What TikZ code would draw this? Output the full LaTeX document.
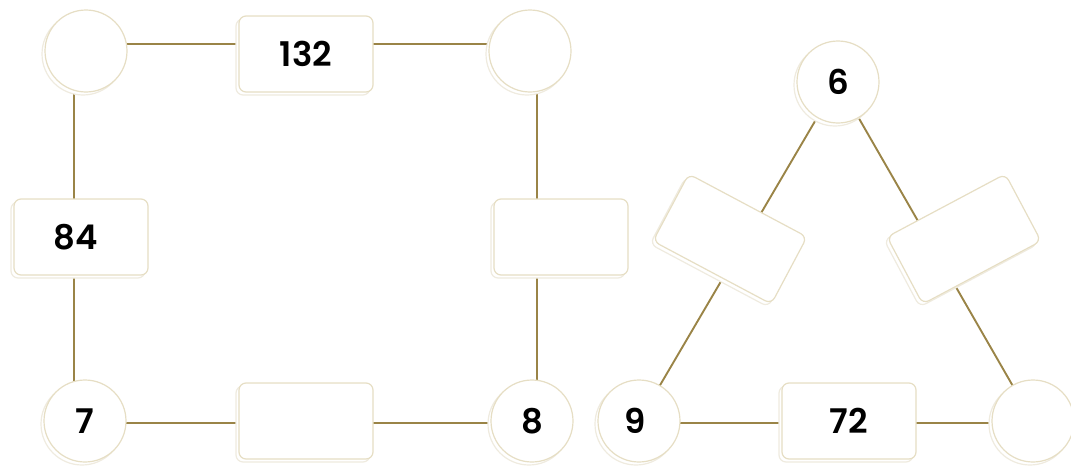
\documentclass[tikz,border=0pt]{standalone}
\usepackage{fontspec}
\setmainfont{Poppins}[UprightFont=* SemiBold]
\usetikzlibrary{shadows,backgrounds}
\definecolor{edgec}{HTML}{E6DEC4}
\definecolor{shadc}{HTML}{EFEBDF}
\definecolor{linkc}{HTML}{9A8447}
\tikzset{
  sh/.style={drop shadow={shadow xshift=-3pt,shadow yshift=-3pt,opacity=1,fill=white,draw=shadc,line width=1.2pt}},
  numtxt/.style={font=\fontsize{34}{34}\selectfont,text=black},
  dot/.style={circle,draw=edgec,fill=white,line width=1.2pt,minimum size=82pt,inner sep=0pt,sh,numtxt},
  valbox/.style={rectangle,rounded corners=7pt,draw=edgec,fill=white,line width=1.2pt,minimum width=134pt,minimum height=76pt,inner sep=0pt,sh,numtxt},
  link/.style={draw=linkc,line width=1.9pt}
}
\begin{document}
\begin{tikzpicture}[x=1pt,y=-1pt]
\useasboundingbox (0,0) rectangle (1071,466);
% square
\node[dot] (tl) at (86,51) {};
\node[valbox] (b132) at (306,54) {132};
\node[dot] (tr) at (530,51) {};
\node[valbox] (b84) at (81,237) {\hspace*{-10pt}84};
\node[valbox] (bR) at (561,237) {};
\node[dot] (c7) at (85,421) {7};
\node[valbox] (bB) at (306,421) {};
\node[dot] (c8) at (532,421) {8};
% triangle
\node[dot] (c6) at (838,82) {6};
\node[valbox,rotate=-28] (lb) at (730,239) {};
\node[valbox,rotate=28] (rb) at (964,239) {};
\node[dot] (c9) at (639,421) {\hspace*{-8pt}9};
\node[valbox] (b72) at (849,421) {72};
\node[dot] (cR) at (1033,421) {};
\begin{scope}[on background layer]
\draw[link] ([yshift=7pt]tl.center) -- ([yshift=7pt]tr.center);
\draw[link] ([xshift=-12pt]tl.center) -- ([xshift=-11pt]c7.center);
\draw[link] ([xshift=7pt]tr.center) -- ([xshift=5pt]c8.center);
\draw[link] ([yshift=-2pt]c7.center) -- ([yshift=-2pt]c8.center);
\draw[link] (c6.center) -- (c9.center);
\draw[link] (c6.center) -- (cR.center);
\draw[link] ([yshift=-2pt]c9.center) -- ([yshift=-2pt]cR.center);
\end{scope}
\end{tikzpicture}
\end{document}
